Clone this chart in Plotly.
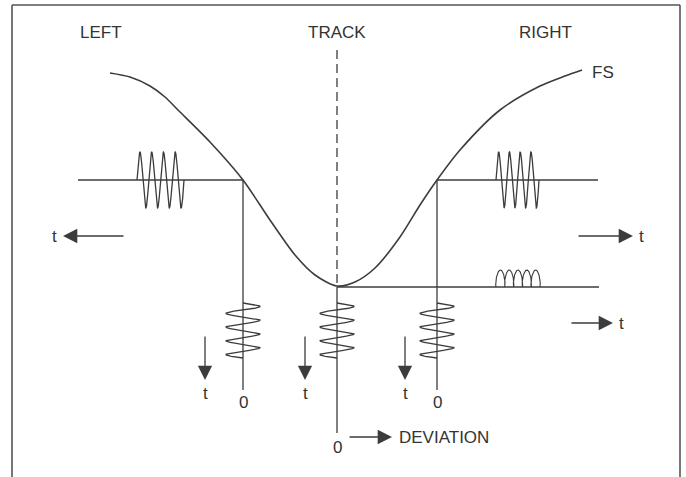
import numpy as np
import plotly.graph_objects as go

# Figure frame is laid out in picture pixels (x to the right, y downwards)
W, H = 686, 477
INK = "#3c3c3c"
FONT = dict(family="Liberation Sans", size=17, color="#333333")

# FS curve
fs_x = [110, 130, 150, 165, 178, 210, 243, 270, 295, 315, 337,
        355, 375, 400, 420, 437, 460, 500, 540, 565, 582]
fs_y = [73, 77, 86, 97, 110, 142, 180, 220, 255, 275, 286,
        282, 268, 237, 205, 180, 150, 110, 86, 76, 70]

# reference lines
left_zero, track_x, right_zero = 243, 337, 437
upper_level, lower_level = 180, 287

# horizontal bursts: (x start, x end, baseline, amplitude, cycles)
h_bursts = [(137, 184, 180, 28, 4), (496, 539, 180, 28, 4)]
# vertical bursts: (centre x, y start, y end, amplitude, cycles)
v_bursts = [(243, 303, 358, 17, 4), (337, 303, 358, 17, 4), (437, 303, 358, 17, 4)]
# looped burst on the lower right line: (x start, x end, height, loops)
loop_burst = (496, 540, 17, 5)

# top labels
top_labels = ["LEFT", "TRACK", "RIGHT"]
top_label_x = [101, 337, 545]

fig = go.Figure()

line = dict(color=INK, width=1.3)

# FS curve
fig.add_trace(go.Scatter(x=fs_x, y=fs_y, mode="lines",
                         line=dict(color=INK, width=1.6, shape="spline", smoothing=0.8)))

# horizontal bursts
for x0, x1, yb, amp, n in h_bursts:
    u = np.linspace(0, 1, 400)
    fig.add_trace(go.Scatter(x=x0 + (x1 - x0) * u, y=yb - amp * np.sin(2 * np.pi * n * u),
                             mode="lines", line=line))

# vertical bursts
for xc, y0, y1, amp, n in v_bursts:
    u = np.linspace(0, 1, 400)
    fig.add_trace(go.Scatter(x=xc + amp * np.sin(2 * np.pi * n * u), y=y0 + (y1 - y0) * u,
                             mode="lines", line=line))

# looped burst
x0, x1, hgt, n = loop_burst
t = np.linspace(0, 2 * np.pi * n, 600)
k = (x1 - x0) / (2 * np.pi * n)
fig.add_trace(go.Scatter(x=x0 + k * t - 1.4 * k * np.sin(t),
                         y=lower_level - hgt * (1 - np.cos(t)) / 2,
                         mode="lines", line=dict(color=INK, width=1.1)))

shapes = [
    # frame
    dict(type="line", x0=12, y0=5, x1=680, y1=5, line=dict(color="#555", width=1.6)),
    dict(type="line", x0=12, y0=5, x1=12, y1=H, line=dict(color="#555", width=1.6)),
    dict(type="line", x0=680, y0=5, x1=680, y1=H, line=dict(color="#555", width=1.6)),
    # base lines
    dict(type="line", x0=78, y0=upper_level, x1=left_zero, y1=upper_level, line=line),
    dict(type="line", x0=right_zero, y0=upper_level, x1=598, y1=upper_level, line=line),
    dict(type="line", x0=track_x, y0=lower_level, x1=599, y1=lower_level, line=line),
    # verticals
    dict(type="line", x0=left_zero, y0=upper_level, x1=left_zero, y1=390, line=line),
    dict(type="line", x0=right_zero, y0=upper_level, x1=right_zero, y1=390, line=line),
    dict(type="line", x0=track_x, y0=lower_level, x1=track_x, y1=433, line=line),
    dict(type="line", x0=track_x, y0=50, x1=track_x, y1=lower_level,
         line=dict(color=INK, width=1.3, dash="9px,5px")),
]

annotations = []
for txt, x in zip(top_labels, top_label_x):
    annotations.append(dict(x=x, y=32, text=txt, showarrow=False, font=FONT))
annotations.append(dict(x=590, y=72, text="FS", showarrow=False, font=FONT, xanchor="left"))

# arrows: (tail x, tail y, head x, head y)
arrows = [(125, 236, 63, 236), (577, 236, 633, 236), (570, 323, 613, 323),
          (205, 335, 205, 380), (305, 335, 305, 380), (405, 335, 405, 380),
          (348, 437, 392, 437)]
for ax, ay, hx, hy in arrows:
    annotations.append(dict(x=hx, y=hy, ax=ax, ay=ay, xref="x", yref="y", axref="x", ayref="y",
                            text="", showarrow=True, arrowhead=2, arrowsize=2.2,
                            arrowwidth=1.3, arrowcolor=INK, standoff=0))

# small labels: (x, y, text)
small_labels = [(54, 236, "t"), (641, 236, "t"), (621, 323, "t"),
                (205, 393, "t"), (305, 393, "t"), (405, 393, "t"),
                (243, 402, "0"), (437, 402, "0"), (337, 447, "0")]
for x, y, txt in small_labels:
    annotations.append(dict(x=x, y=y, text=txt, showarrow=False, font=FONT))
annotations.append(dict(x=397, y=437, text="DEVIATION", showarrow=False, font=FONT,
                        xanchor="left"))

fig.update_layout(
    width=W, height=H,
    margin=dict(l=0, r=0, t=0, b=0),
    paper_bgcolor="white", plot_bgcolor="white",
    showlegend=False,
    xaxis=dict(range=[0, W], visible=False, fixedrange=True),
    yaxis=dict(range=[H, 0], visible=False, fixedrange=True),
    shapes=shapes,
    annotations=annotations,
)

fig.write_html("out.html", config={"displayModeBar": False},
               post_script="document.body.style.margin='0';document.body.style.overflow='hidden';")
